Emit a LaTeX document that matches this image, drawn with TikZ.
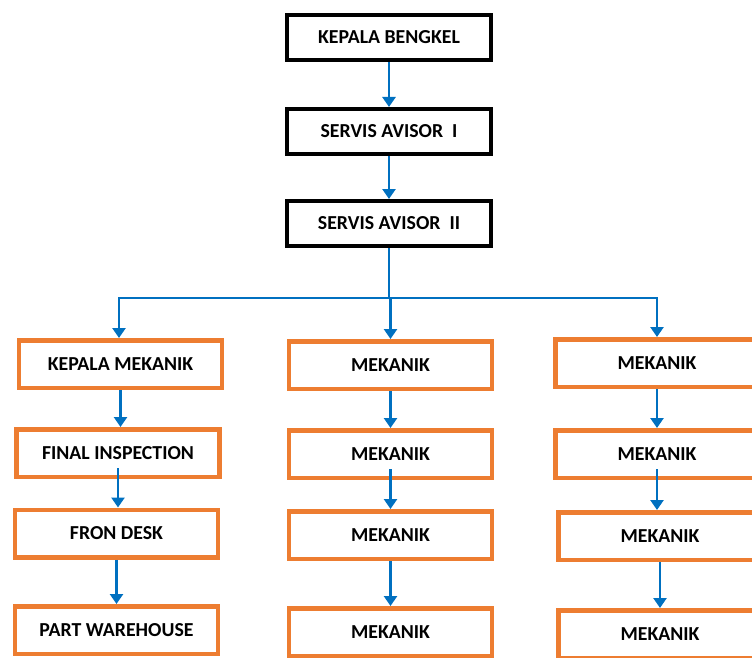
\documentclass[tikz,border=0pt]{standalone}
\usepackage{fontspec}
\setmainfont{Carlito}
\usetikzlibrary{shapes,arrows.meta}
\definecolor{boxorange}{RGB}{237,125,49}
\definecolor{linkblue}{RGB}{0,112,192}

\begin{document}
\begin{tikzpicture}[x=1pt,y=-1pt,
  headbox/.style={draw=black, line width=4pt, minimum width=204pt, minimum height=45pt, inner sep=0pt, font=\bfseries\fontsize{19.8}{22}\selectfont},
  staffbox/.style={draw=boxorange, line width=4.5pt, minimum width=203pt, minimum height=47.5pt, inner sep=0pt, font=\bfseries\fontsize{19.8}{22}\selectfont},
  conn/.style={linkblue, line width=2.8pt, -{Triangle[width=13pt,length=10pt]}}]
\useasboundingbox (0,0) rectangle (752,658);
% top of the chart
\node[headbox] (kb) at (389,37.5) {KEPALA BENGKEL};
\node[headbox] (sa1) at (389,131.5) {SERVIS AVISOR~~I};
\node[headbox] (sa2) at (389,223.5) {SERVIS AVISOR~~II};
% left column
\node[staffbox] (km) at (120.5,364) {KEPALA MEKANIK};
\node[staffbox] (fi) at (118,453) {FINAL INSPECTION};
\node[staffbox] (fd) at (116.5,533.5) {FRON DESK};
\node[staffbox] (pw) at (116.5,630) {PART WAREHOUSE};
% mechanics, middle and right
\foreach \y/\n in {365/1,454/2,535/3,632/4} {
    \node[staffbox] (m\n) at (390.5,\y) {MEKANIK};
}
\foreach \x/\y/\n in {657/363/1,657/454/2,660/536/3,660/634/4} {
    \node[staffbox] (r\n) at (\x,\y) {MEKANIK};
}
% arrows
\draw[conn] (kb.south) -- (sa1.north);
\draw[conn] (sa1.south) -- (sa2.north);
\coordinate (bus) at (389,298);
\draw[linkblue, line width=2.8pt] (sa2.south) -- (bus);
\draw[conn] (bus) -| ([xshift=-1.5pt]km.north);
\draw[conn] (bus) -| (m1.north);
\draw[conn] (bus) -| (r1.north);
\foreach \a/\b in {km/fi,fd/pw,m1/m2,m3/m4,r1/r2,r3/r4} {
    \draw[conn] (\a.south) -- (\a.south |- \b.north);
}
\foreach \a/\b in {fi/fd,m2/m3,r2/r3} {
    \draw[conn] ([yshift=11pt]\a.south) -- (\a.south |- \b.north);
}
\end{tikzpicture}
\end{document}
